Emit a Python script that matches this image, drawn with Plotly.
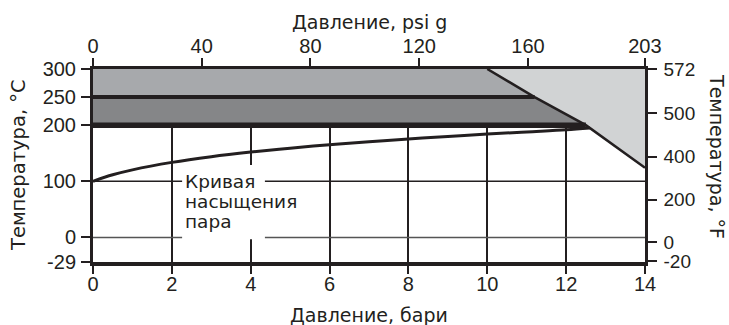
import plotly.graph_objects as go

# ---- data ----
pressure_bar = [0, 0.5, 1, 2, 3, 4, 5, 6, 7, 8, 9, 10, 11, 12, 12.6]
sat_temp_c = [100, 111.6, 120.4, 133.7, 143.8, 152.0, 159.0, 165.1, 170.5, 175.5, 180.0, 184.2, 188.0, 191.7, 195.0]

band_levels_c = [200, 250, 300]
limit_p = [10.0, 11.2, 12.5, 14.0]      # pressure of the limit line at each level
limit_t = [300, 250, 200, 124]

x_max_bar = 14
bar_ticks = [0, 2, 4, 6, 8, 10, 12, 14]
psi_ticks = [0, 40, 80, 120, 160, 203]
psi_per_bar = 14.5038

c_tick_labels = ["-29", "0", "100", "200", "250", "300"]
c_tick_pos = [-43.7, 0, 100, 200, 250, 300]
f_tick_labels = ["-20", "0", "200", "400", "500", "572"]
f_tick_pos = [-42.7, -8, 67, 144, 221.8, 300]

label_lines = ["Кривая", "насыщения", "пара"]

INK = "#231f20"
FONT = "DejaVu Sans"
TICKFONT = "Liberation Sans"
y_range = [-43.7, 300]

fig = go.Figure()

# upper band 250-300
fig.add_trace(go.Scatter(
    x=[0, 0, limit_p[0], limit_p[1]],
    y=[band_levels_c[1], band_levels_c[2], band_levels_c[2], band_levels_c[1]],
    fill="toself", fillcolor="#a7a9ac", line=dict(width=0), mode="lines",
    hoverinfo="skip", showlegend=False))
# lower band 200-250
fig.add_trace(go.Scatter(
    x=[0, 0, limit_p[1], limit_p[2]],
    y=[band_levels_c[0], band_levels_c[1], band_levels_c[1], band_levels_c[0]],
    fill="toself", fillcolor="#858688", line=dict(width=0), mode="lines",
    hoverinfo="skip", showlegend=False))
# light region beyond the limit line
fig.add_trace(go.Scatter(
    x=[limit_p[0], x_max_bar, x_max_bar] + limit_p[::-1][1:],
    y=[limit_t[0], band_levels_c[2], limit_t[3]] + limit_t[::-1][1:],
    fill="toself", fillcolor="#d1d3d4", line=dict(width=0), mode="lines",
    hoverinfo="skip", showlegend=False))

# saturation curve
fig.add_trace(go.Scatter(x=pressure_bar, y=sat_temp_c, mode="lines",
                         line=dict(color=INK, width=3, shape="spline"),
                         hoverinfo="skip", showlegend=False))
# level lines
fig.add_trace(go.Scatter(x=[0, limit_p[1]], y=[band_levels_c[1]] * 2, mode="lines",
                         line=dict(color=INK, width=4), hoverinfo="skip", showlegend=False))
fig.add_trace(go.Scatter(x=[0, limit_p[2]], y=[band_levels_c[0]] * 2, mode="lines",
                         line=dict(color=INK, width=5.5), hoverinfo="skip", showlegend=False))
# limit line
fig.add_trace(go.Scatter(x=limit_p, y=limit_t, mode="lines",
                         line=dict(color=INK, width=2.5), hoverinfo="skip", showlegend=False))

# psi axis trace (invisible) to activate x2
fig.add_trace(go.Scatter(x=[0, x_max_bar * psi_per_bar], y=[0, 0], xaxis="x2", mode="lines",
                         line=dict(width=0), hoverinfo="skip", showlegend=False))
# F axis trace (invisible) to activate y2
fig.add_trace(go.Scatter(x=[0, 0], y=[0, 0], yaxis="y2", mode="lines",
                         line=dict(width=0), hoverinfo="skip", showlegend=False))

shapes = [
    dict(type="line", xref="x", yref="y", x0=0, x1=x_max_bar, y0=100, y1=100,
         line=dict(color=INK, width=1.6), layer="above"),
    dict(type="line", xref="x", yref="y", x0=0, x1=x_max_bar, y0=0, y1=0,
         line=dict(color="#555555", width=1.6), layer="above"),
    dict(type="rect", xref="x", yref="y", x0=2.26, x1=4.36, y0=-3, y1=129,
         fillcolor="white", line=dict(width=0), layer="above"),
]

annotations = []
label_y = [99, 63.5, 28]
for txt, yy in zip(label_lines, label_y):
    annotations.append(dict(text=txt, x=2.28, y=yy, xref="x", yref="y",
                            xanchor="left", yanchor="middle", showarrow=False,
                            font=dict(family=FONT, size=18.5, color=INK)))

annotations += [
    dict(text="Давление, psi g", x=0.5, y=1.2435, xref="paper", yref="paper",
         xanchor="center", yanchor="middle", showarrow=False,
         font=dict(family=FONT, size=19, color=INK)),
    dict(text="Давление, бари", x=0.5, y=-0.2746, xref="paper", yref="paper",
         xanchor="center", yanchor="middle", showarrow=False,
         font=dict(family=FONT, size=19, color=INK)),
    dict(text="Температура, °C", x=-0.134, y=0.5026, xref="paper", yref="paper",
         xanchor="center", yanchor="middle", textangle=-90, showarrow=False,
         font=dict(family=FONT, size=19.5, color=INK)),
    dict(text="Температура, °F", x=1.1304, y=0.544, xref="paper", yref="paper",
         xanchor="center", yanchor="middle", textangle=90, showarrow=False,
         font=dict(family=FONT, size=19, color=INK)),
]

tickfont = dict(family=TICKFONT, size=20, color=INK)
tickfont_r = dict(family=TICKFONT, size=19, color=INK)

fig.update_layout(
    width=729, height=325,
    margin=dict(l=93, r=84, t=69, b=63, autoexpand=False),
    paper_bgcolor="white", plot_bgcolor="white",
    showlegend=False,
    xaxis=dict(range=[0, x_max_bar], tickvals=bar_ticks, ticks="outside", ticklen=8,
               tickwidth=1.5, tickcolor=INK, showline=True, linewidth=3.5, linecolor=INK,
               showgrid=True, gridcolor=INK, gridwidth=1.6, zeroline=False,
               tickfont=tickfont, automargin=False, ticklabelstandoff=-7),
    xaxis2=dict(range=[0, x_max_bar * psi_per_bar], overlaying="x", side="top",
                tickvals=psi_ticks, ticks="outside", ticklen=8, tickwidth=1.5,
                tickcolor=INK, showline=True, linewidth=2.5, linecolor=INK,
                showgrid=False, zeroline=False, tickfont=tickfont, anchor="y",
                automargin=False, ticklabelstandoff=-3),
    yaxis=dict(range=y_range, tickvals=c_tick_pos, ticktext=c_tick_labels,
               ticks="outside", ticklen=9, tickwidth=1.5, tickcolor=INK,
               showline=True, linewidth=3, linecolor=INK, showgrid=False,
               zeroline=False, tickfont=tickfont, automargin=False, ticklabelstandoff=1),
    yaxis2=dict(range=y_range, overlaying="y", side="right", anchor="x",
                tickvals=f_tick_pos, ticktext=f_tick_labels,
                ticks="outside", ticklen=9, tickwidth=1.5, tickcolor=INK,
                showline=True, linewidth=2.5, linecolor=INK, showgrid=False,
                zeroline=False, tickfont=tickfont_r, automargin=False, ticklabelstandoff=3),
    shapes=shapes,
    annotations=annotations,
)

fig.write_html("out.html", config={"displayModeBar": False},
               post_script="document.body.style.margin='0px';document.body.style.overflow='hidden';")
